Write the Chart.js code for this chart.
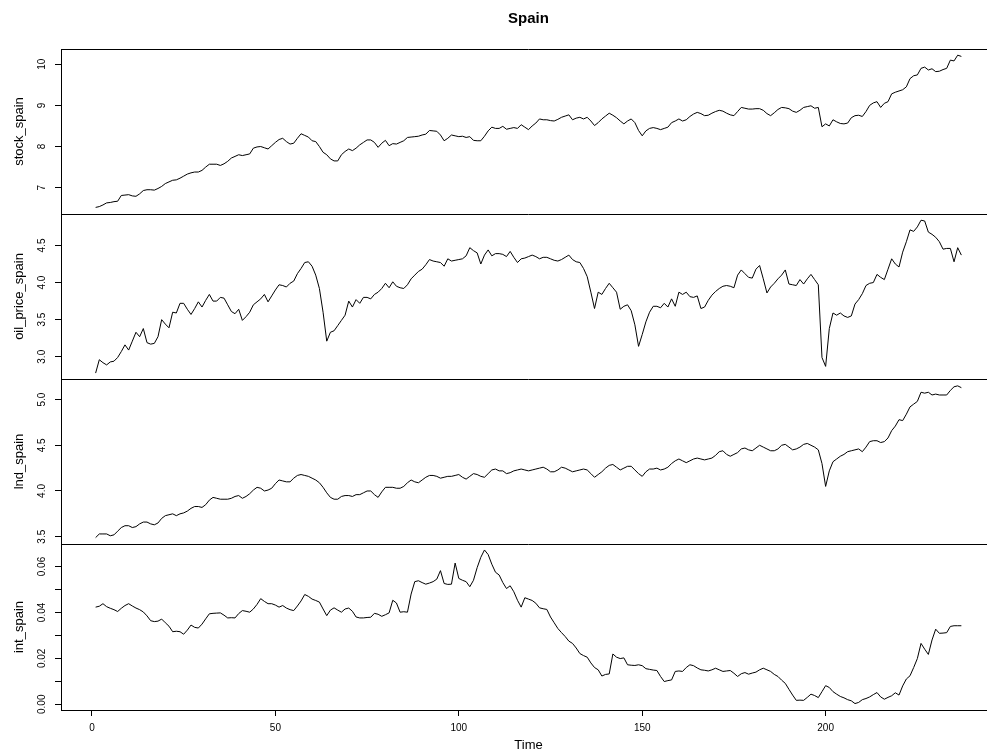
<!DOCTYPE html>
<html>
<head>
<meta charset="utf-8">
<script src="https://cdn.jsdelivr.net/npm/chart.js@4.4.1/dist/chart.umd.min.js"></script>
<style>
  html, body { margin: 0; padding: 0; background: #fff; overflow: hidden; }
  #wrap { position: relative; width: 987px; height: 751px; overflow: hidden; }
  .panel { position: absolute; left: 0; width: 996px; }
</style>
</head>
<body>
<div id="wrap">
  <div class="panel" style="top:0;height:214px"><canvas id="stockChart"></canvas></div>
  <div class="panel" style="top:214px;height:165px"><canvas id="oilChart"></canvas></div>
  <div class="panel" style="top:379px;height:165px"><canvas id="lndChart"></canvas></div>
  <div class="panel" style="top:544px;height:207px"><canvas id="intChart"></canvas></div>
</div>
<script>
// monthly series, t = 1..237
const stockSpain = [
  6.52, 6.54, 6.58, 6.63, 6.64, 6.66, 6.67, 6.81, 6.82, 6.83, 6.80, 6.79, 6.85, 6.93, 6.95, 6.95, 6.94, 6.98, 7.03, 7.10,
  7.14, 7.18, 7.19, 7.23, 7.28, 7.33, 7.36, 7.38, 7.38, 7.42, 7.50, 7.57, 7.57, 7.57, 7.54, 7.58, 7.64, 7.72, 7.76, 7.80,
  7.78, 7.80, 7.82, 7.96, 7.99, 8.00, 7.97, 7.94, 8.02, 8.10, 8.17, 8.20, 8.12, 8.06, 8.08, 8.20, 8.31, 8.27, 8.23, 8.14,
  8.12, 8.00, 7.86, 7.80, 7.70, 7.65, 7.65, 7.80, 7.88, 7.94, 7.90, 7.96, 8.04, 8.10, 8.16, 8.16, 8.10, 7.98, 8.08, 8.15,
  8.02, 8.07, 8.06, 8.10, 8.14, 8.22, 8.23, 8.24, 8.25, 8.28, 8.30, 8.39, 8.38, 8.37, 8.28, 8.14, 8.20, 8.28, 8.26, 8.24,
  8.25, 8.22, 8.24, 8.15, 8.14, 8.14, 8.25, 8.38, 8.47, 8.44, 8.44, 8.49, 8.42, 8.44, 8.46, 8.44, 8.53, 8.47, 8.41, 8.50,
  8.57, 8.67, 8.65, 8.65, 8.63, 8.62, 8.66, 8.71, 8.74, 8.77, 8.65, 8.69, 8.71, 8.67, 8.71, 8.62, 8.51, 8.58, 8.67, 8.74,
  8.81, 8.76, 8.70, 8.62, 8.55, 8.62, 8.67, 8.58, 8.39, 8.26, 8.38, 8.44, 8.46, 8.44, 8.41, 8.44, 8.47, 8.58, 8.62, 8.67,
  8.62, 8.65, 8.73, 8.79, 8.83, 8.80, 8.75, 8.76, 8.81, 8.85, 8.88, 8.86, 8.81, 8.77, 8.75, 8.85, 8.95, 8.93, 8.91, 8.91,
  8.92, 8.92, 8.88, 8.80, 8.75, 8.82, 8.90, 8.95, 8.94, 8.92, 8.86, 8.83, 8.88, 8.95, 8.97, 8.99, 8.93, 8.95, 8.48, 8.55,
  8.50, 8.65, 8.60, 8.56, 8.55, 8.57, 8.70, 8.75, 8.76, 8.73, 8.85, 9.00, 9.06, 9.09, 8.95, 9.05, 9.09, 9.28, 9.32, 9.35,
  9.38, 9.45, 9.65, 9.72, 9.74, 9.90, 9.93, 9.86, 9.89, 9.82, 9.83, 9.87, 9.90, 10.10, 10.08, 10.22, 10.19
];
const oilPriceSpain = [
  2.78, 2.96, 2.92, 2.89, 2.93, 2.94, 2.99, 3.07, 3.16, 3.09, 3.21, 3.33, 3.27, 3.38, 3.19, 3.17, 3.18, 3.27, 3.50, 3.44,
  3.39, 3.60, 3.59, 3.72, 3.72, 3.64, 3.57, 3.65, 3.74, 3.67, 3.76, 3.84, 3.75, 3.75, 3.80, 3.79, 3.70, 3.61, 3.58, 3.64,
  3.49, 3.54, 3.60, 3.70, 3.74, 3.78, 3.84, 3.74, 3.82, 3.90, 3.97, 3.96, 3.94, 3.99, 4.02, 4.12, 4.19, 4.27, 4.28, 4.22,
  4.10, 3.92, 3.60, 3.21, 3.33, 3.35, 3.42, 3.49, 3.56, 3.75, 3.67, 3.77, 3.72, 3.80, 3.80, 3.78, 3.84, 3.87, 3.92, 3.99,
  3.93, 4.01, 3.95, 3.93, 3.92, 3.97, 4.05, 4.10, 4.15, 4.18, 4.24, 4.31, 4.29, 4.28, 4.27, 4.22, 4.32, 4.29, 4.30, 4.31,
  4.32, 4.36, 4.47, 4.43, 4.40, 4.25, 4.37, 4.44, 4.36, 4.39, 4.39, 4.38, 4.35, 4.42, 4.34, 4.27, 4.32, 4.33, 4.35, 4.37,
  4.35, 4.32, 4.34, 4.34, 4.32, 4.30, 4.29, 4.31, 4.34, 4.37, 4.31, 4.28, 4.27, 4.19, 4.08, 3.87, 3.65, 3.87, 3.84, 3.92,
  3.99, 3.93, 3.87, 3.64, 3.68, 3.70, 3.62, 3.43, 3.14, 3.30, 3.47, 3.60, 3.68, 3.68, 3.66, 3.72, 3.67, 3.78, 3.68, 3.87,
  3.84, 3.87, 3.81, 3.80, 3.82, 3.65, 3.67, 3.76, 3.83, 3.88, 3.92, 3.95, 3.96, 3.95, 3.93, 4.10, 4.17, 4.12, 4.07, 4.06,
  4.18, 4.23, 4.05, 3.86, 3.94, 3.99, 4.05, 4.10, 4.17, 3.98, 3.97, 3.96, 4.04, 3.98, 4.05, 4.11, 4.04, 3.97, 2.99, 2.87,
  3.38, 3.59, 3.56, 3.59, 3.55, 3.53, 3.55, 3.71, 3.77, 3.85, 3.96, 3.99, 4.00, 4.11, 4.07, 4.04, 4.18, 4.32, 4.25, 4.21,
  4.41, 4.55, 4.71, 4.69, 4.75, 4.84, 4.83, 4.68, 4.65, 4.61, 4.55, 4.45, 4.46, 4.46, 4.28, 4.47, 4.37
];
const lndSpain = [
  3.49, 3.53, 3.53, 3.53, 3.51, 3.52, 3.56, 3.60, 3.62, 3.62, 3.60, 3.61, 3.64, 3.66, 3.66, 3.64, 3.63, 3.65, 3.70, 3.73,
  3.74, 3.75, 3.73, 3.75, 3.76, 3.78, 3.81, 3.83, 3.83, 3.82, 3.85, 3.90, 3.93, 3.92, 3.91, 3.91, 3.91, 3.92, 3.94, 3.95,
  3.92, 3.94, 3.97, 4.01, 4.04, 4.03, 4.00, 4.01, 4.03, 4.08, 4.12, 4.11, 4.10, 4.10, 4.14, 4.17, 4.18, 4.17, 4.16, 4.14,
  4.12, 4.09, 4.04, 3.98, 3.93, 3.91, 3.91, 3.94, 3.95, 3.95, 3.94, 3.96, 3.96, 3.98, 4.00, 4.00, 3.96, 3.93, 3.99, 4.04,
  4.04, 4.04, 4.03, 4.03, 4.05, 4.09, 4.12, 4.10, 4.09, 4.12, 4.15, 4.17, 4.17, 4.16, 4.14, 4.15, 4.16, 4.16, 4.17, 4.18,
  4.15, 4.13, 4.16, 4.19, 4.18, 4.16, 4.15, 4.19, 4.23, 4.24, 4.22, 4.22, 4.19, 4.20, 4.22, 4.23, 4.24, 4.23, 4.22, 4.23,
  4.24, 4.25, 4.26, 4.24, 4.21, 4.21, 4.23, 4.26, 4.25, 4.23, 4.21, 4.22, 4.23, 4.24, 4.23, 4.19, 4.15, 4.18, 4.21, 4.25,
  4.28, 4.29, 4.26, 4.23, 4.25, 4.27, 4.27, 4.23, 4.19, 4.16, 4.21, 4.24, 4.24, 4.25, 4.23, 4.24, 4.26, 4.30, 4.33, 4.35,
  4.33, 4.31, 4.33, 4.35, 4.36, 4.35, 4.34, 4.35, 4.36, 4.39, 4.43, 4.44, 4.40, 4.38, 4.40, 4.42, 4.46, 4.47, 4.45, 4.44,
  4.47, 4.50, 4.48, 4.46, 4.44, 4.44, 4.46, 4.50, 4.51, 4.48, 4.45, 4.46, 4.48, 4.51, 4.52, 4.50, 4.48, 4.45, 4.30, 4.05,
  4.22, 4.32, 4.35, 4.38, 4.40, 4.43, 4.44, 4.45, 4.46, 4.43, 4.48, 4.54, 4.55, 4.55, 4.53, 4.54, 4.58, 4.66, 4.71, 4.78,
  4.77, 4.84, 4.92, 4.95, 4.98, 5.08, 5.07, 5.08, 5.05, 5.06, 5.05, 5.05, 5.05, 5.10, 5.14, 5.15, 5.13
];
const intSpain = [
  0.0423, 0.0427, 0.0438, 0.0425, 0.0418, 0.0412, 0.0404, 0.0418, 0.0430, 0.0438, 0.0428, 0.0419, 0.0412, 0.0402, 0.0385, 0.0364, 0.0360, 0.0362, 0.0371, 0.0355,
  0.0340, 0.0316, 0.0318, 0.0316, 0.0305, 0.0323, 0.0345, 0.0335, 0.0332, 0.0349, 0.0372, 0.0394, 0.0396, 0.0397, 0.0398, 0.0388, 0.0376, 0.0377, 0.0376, 0.0395,
  0.0408, 0.0405, 0.0401, 0.0415, 0.0435, 0.0460, 0.0448, 0.0438, 0.0438, 0.0432, 0.0423, 0.0430, 0.0419, 0.0412, 0.0408, 0.0428, 0.0450, 0.0478, 0.0470, 0.0458,
  0.0452, 0.0445, 0.0415, 0.0386, 0.0410, 0.0420, 0.0410, 0.0401, 0.0415, 0.0419, 0.0405, 0.0380, 0.0376, 0.0376, 0.0378, 0.0379, 0.0396, 0.0392, 0.0383, 0.0390,
  0.0398, 0.0453, 0.0441, 0.0401, 0.0403, 0.0401, 0.0480, 0.0534, 0.0538, 0.0530, 0.0523, 0.0528, 0.0534, 0.0545, 0.0582, 0.0526, 0.0522, 0.0523, 0.0615, 0.0548,
  0.0540, 0.0534, 0.0512, 0.0540, 0.0595, 0.0640, 0.0672, 0.0652, 0.0610, 0.0575, 0.0563, 0.0530, 0.0504, 0.0516, 0.0490, 0.0453, 0.0423, 0.0464, 0.0458, 0.0452,
  0.0440, 0.0420, 0.0416, 0.0413, 0.0380, 0.0355, 0.0330, 0.0312, 0.0295, 0.0275, 0.0265, 0.0245, 0.0221, 0.0212, 0.0205, 0.0180, 0.0160, 0.0150, 0.0123, 0.0130,
  0.0132, 0.0219, 0.0205, 0.0199, 0.0202, 0.0172, 0.0170, 0.0169, 0.0172, 0.0168, 0.0155, 0.0152, 0.0149, 0.0147, 0.0121, 0.0099, 0.0103, 0.0106, 0.0143, 0.0145,
  0.0143, 0.0160, 0.0172, 0.0168, 0.0158, 0.0150, 0.0148, 0.0145, 0.0150, 0.0157, 0.0150, 0.0143, 0.0145, 0.0147, 0.0135, 0.0121, 0.0133, 0.0138, 0.0131, 0.0136,
  0.0140, 0.0150, 0.0157, 0.0150, 0.0143, 0.0130, 0.0121, 0.0105, 0.0091, 0.0065, 0.0040, 0.0017, 0.0018, 0.0017, 0.0030, 0.0044, 0.0038, 0.0029, 0.0055, 0.0081,
  0.0073, 0.0055, 0.0044, 0.0034, 0.0028, 0.0020, 0.0015, 0.0003, 0.0008, 0.0020, 0.0025, 0.0032, 0.0042, 0.0051, 0.0032, 0.0022, 0.0030, 0.0037, 0.0050, 0.0040,
  0.0080, 0.0110, 0.0124, 0.0160, 0.0199, 0.0265, 0.0240, 0.0217, 0.0280, 0.0327, 0.0309, 0.0310, 0.0312, 0.0339, 0.0342, 0.0342, 0.0342
];
const time = stockSpain.map((_, i) => i + 1);
const xTicks = [0, 50, 100, 150, 200];

const FONT = 'Arial, "Liberation Sans", Helvetica, sans-serif';

// top edge of every panel box (left edge comes from the y axis border)
const framePlugin = {
  id: 'frame',
  afterDraw(chart) {
    const { ctx, chartArea: a } = chart;
    ctx.save();
    ctx.strokeStyle = '#000';
    ctx.lineWidth = 1;
    ctx.beginPath();
    ctx.moveTo(a.left, a.top + 0.5);
    ctx.lineTo(a.right, a.top + 0.5);
    ctx.stroke();
    ctx.restore();
  }
};

function makePanel(canvasId, values, cfg) {
  const ctx = document.getElementById(canvasId);
  return new Chart(ctx, {
    type: 'line',
    data: {
      datasets: [{
        data: values.map((v, i) => ({ x: time[i], y: v })),
        borderColor: '#000',
        borderWidth: 1,
        pointRadius: 0,
        fill: false,
        tension: 0,
      }]
    },
    options: {
      responsive: true,
      maintainAspectRatio: false,
      animation: false,
      layout: { padding: 0 },
      plugins: {
        legend: { display: false },
        tooltip: { enabled: false },
        title: cfg.mainTitle ? {
          display: true,
          text: cfg.mainTitle,
          fullSize: false,
          color: '#000',
          font: { family: FONT, size: 15, weight: 'bold', lineHeight: 1.2 },
          padding: { top: 10, bottom: 21 },
        } : { display: false },
      },
      scales: {
        x: {
          type: 'linear',
          min: -8.44,
          max: 246.44,
          display: !!cfg.showX,
          afterFit: s => {
            s.height = cfg.showX ? 41 : 0;
            s.paddingLeft = 0; s.paddingRight = 0;
          },
          afterBuildTicks: s => { s.ticks = xTicks.map(v => ({ value: v })); },
          ticks: {
            color: '#000', font: { family: FONT, size: 10 }, padding: 6,
            maxRotation: 0, autoSkip: false, includeBounds: false,
          },
          grid: { drawOnChartArea: false, drawTicks: true, tickLength: 6, color: '#000' },
          border: { display: true, color: '#000', width: 1 },
          title: {
            display: !!cfg.showX, text: 'Time', color: '#000',
            font: { family: FONT, size: 13, lineHeight: 1 }, padding: { top: 0, bottom: -1 },
          },
        },
        y: {
          min: cfg.min,
          max: cfg.max,
          afterFit: s => {
            s.width = 61;
            s.paddingTop = 0; s.paddingBottom = 0;
          },
          afterBuildTicks: s => { s.ticks = cfg.ticks.map(v => ({ value: v })); },
          ticks: {
            color: '#000', font: { family: FONT, size: 10 },
            minRotation: 90, maxRotation: 90, crossAlign: 'center',
            padding: cfg.tickPad, autoSkip: false,
            callback: v => cfg.labelled.includes(v) ? v.toFixed(cfg.decimals) : '',
          },
          grid: { drawOnChartArea: false, drawTicks: true, tickLength: 6, color: '#000' },
          border: { display: true, color: '#000', width: 1 },
          title: {
            display: true, text: cfg.label, color: '#000',
            font: { family: FONT, size: 13, lineHeight: 1 }, padding: { top: 13, bottom: 0 },
          },
        }
      }
    },
    plugins: [framePlugin]
  });
}

makePanel('stockChart', stockSpain, {
  label: 'stock_spain', mainTitle: 'Spain', min: 6.36, max: 10.37,
  ticks: [7, 8, 9, 10], labelled: [7, 8, 9, 10], decimals: 0, tickPad: 7,
});
makePanel('oilChart', oilPriceSpain, {
  label: 'oil_price_spain', min: 2.70, max: 4.924,
  ticks: [3.0, 3.5, 4.0, 4.5], labelled: [3.0, 3.5, 4.0, 4.5], decimals: 1, tickPad: 6,
});
makePanel('lndChart', lndSpain, {
  label: 'lnd_spain', min: 3.42, max: 5.225,
  ticks: [3.5, 4.0, 4.5, 5.0], labelled: [3.5, 4.0, 4.5, 5.0], decimals: 1, tickPad: 6,
});
makePanel('intChart', intSpain, {
  label: 'int_spain', min: -0.0025, max: 0.0698, showX: true,
  ticks: [0, 0.01, 0.02, 0.03, 0.04, 0.05, 0.06], labelled: [0, 0.02, 0.04, 0.06], decimals: 2, tickPad: 3,
});
</script>
</body>
</html>
